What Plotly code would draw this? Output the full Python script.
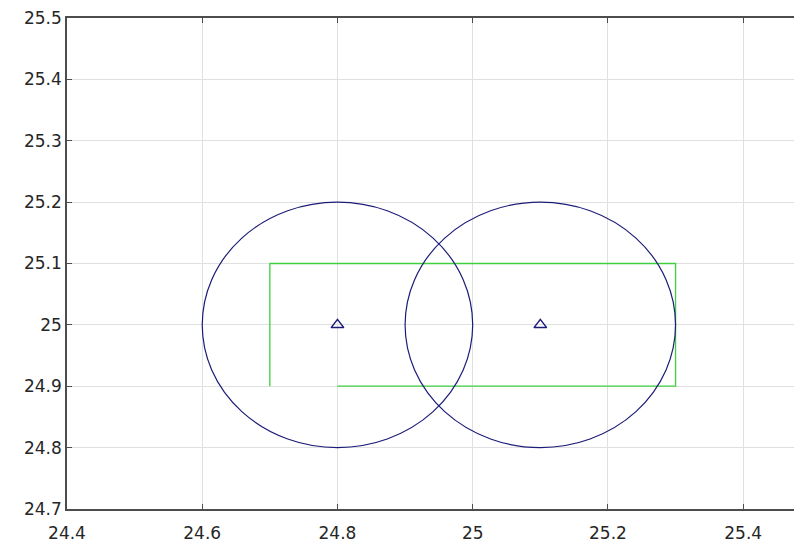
import plotly.graph_objects as go

# Data
centers_x = [24.8, 25.1]
centers_y = [25.0, 25.0]
radius = 0.2
route_x = [24.7, 24.7, 25.3, 25.3, 24.8]
route_y = [24.9, 25.1, 25.1, 24.9, 24.9]
x_ticks = [24.4, 24.6, 24.8, 25.0, 25.2, 25.4]
x_labels = ["24.4", "24.6", "24.8", "25", "25.2", "25.4"]
y_ticks = [24.7, 24.8, 24.9, 25.0, 25.1, 25.2, 25.3, 25.4, 25.5]
y_labels = ["24.7", "24.8", "24.9", "25", "25.1", "25.2", "25.3", "25.4", "25.5"]

NAVY = "#1c1c78"
GREEN = "#3fcf3f"
AX = "#4d4d4d"

fig = go.Figure()
fig.add_trace(go.Scatter(x=route_x, y=route_y, mode="lines",
                         line=dict(color=GREEN, width=1.3), showlegend=False))
fig.add_trace(go.Scatter(x=centers_x, y=centers_y, mode="markers",
                         marker=dict(symbol="triangle-up-open", size=11,
                                     color=NAVY, line=dict(width=1.5, color=NAVY)),
                         showlegend=False))
for cx, cy in zip(centers_x, centers_y):
    fig.add_shape(type="circle", xref="x", yref="y",
                  x0=cx - radius, x1=cx + radius, y0=cy - radius, y1=cy + radius,
                  line=dict(color=NAVY, width=1.2), layer="above")

fig.update_layout(
    width=794, height=534,
    margin=dict(l=59, r=0, t=10, b=33, autoexpand=False),
    plot_bgcolor="white", paper_bgcolor="white",
    font=dict(family="DejaVu Sans, sans-serif", size=17, color="#262626"),
)
fig.update_xaxes(range=[24.4, 25.487], tickvals=x_ticks, ticktext=x_labels,
                 showgrid=True, gridcolor="#e0e0e0", gridwidth=1,
                 showline=True, linecolor=AX, linewidth=1.5, mirror="ticks",
                 ticks="inside", ticklen=5, tickcolor=AX, zeroline=False,
                 ticklabelstandoff=8, automargin=False, ticklabeloverflow="allow")
fig.update_yaxes(range=[24.6999, 25.5001], tickvals=y_ticks, ticktext=y_labels,
                 showgrid=True, gridcolor="#e0e0e0", gridwidth=1,
                 showline=True, linecolor=AX, linewidth=1.5, mirror=False,
                 ticks="inside", ticklen=5, tickcolor=AX, zeroline=False,
                 ticklabelstandoff=0, automargin=False, ticklabeloverflow="allow")

fig.write_html("out.html")
